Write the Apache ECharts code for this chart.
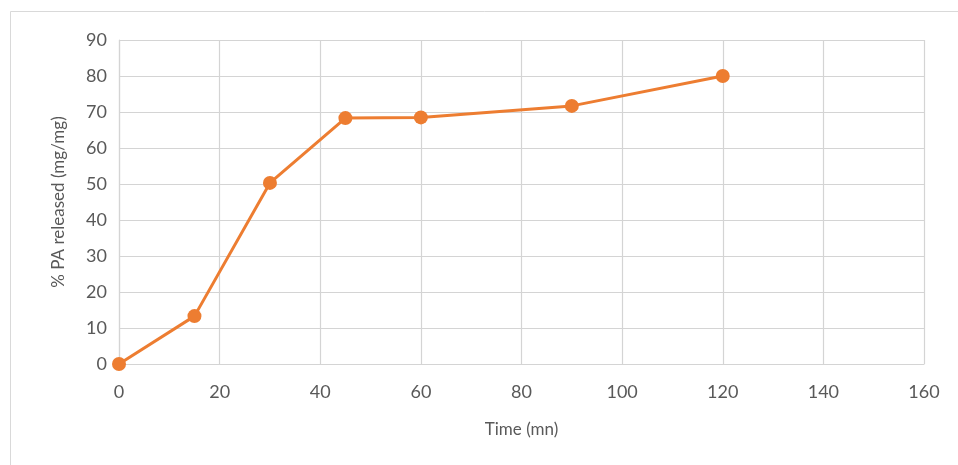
<!DOCTYPE html>
<html><head><meta charset="utf-8">
<script src="https://cdn.jsdelivr.net/npm/echarts@6/dist/echarts.min.js"></script>
<style>html,body{margin:0;padding:0;background:#fff}#c{width:958px;height:465px}</style>
</head><body><div id="c"></div>
<script>
const timeMin = [0, 15, 30, 45, 60, 90, 120];
const released = [0, 13.3, 50.3, 68.3, 68.5, 71.7, 80.0];
const xTitle = 'Time (mn)';
const yTitle = '% PA released (mg/mg)';

const chart = echarts.init(document.getElementById('c'), null, {renderer: 'canvas'});
const font = 'Lato, "Open Sans", sans-serif';
const txt = '#595959';
chart.setOption({
  animation: false,
  backgroundColor: '#fff',
  graphic: [{
    type: 'rect', silent: true,
    shape: {x: 10.5, y: 11.5, width: 1000, height: 1000},
    style: {fill: 'none', stroke: '#d9d9d9', lineWidth: 1}
  }],
  grid: {left: 119, top: 40, right: 34, bottom: 101},
  xAxis: {
    type: 'value', min: 0, max: 160, interval: 20,
    name: xTitle, nameLocation: 'middle', nameGap: 57,
    nameTextStyle: {color: txt, fontSize: 17, fontFamily: font},
    axisLine: {show: true, lineStyle: {color: '#d4d4d4', width: 1.2}},
    axisTick: {show: false},
    axisLabel: {color: txt, fontSize: 18, fontFamily: font, margin: 19},
    splitLine: {show: true, lineStyle: {color: '#d4d4d4', width: 1.2}}
  },
  yAxis: {
    type: 'value', min: 0, max: 90, interval: 10,
    name: yTitle, nameLocation: 'middle', nameGap: 52,
    nameTextStyle: {color: txt, fontSize: 17, fontFamily: font},
    axisLine: {show: true, lineStyle: {color: '#d4d4d4', width: 1.2}},
    axisTick: {show: false},
    axisLabel: {color: txt, fontSize: 18, fontFamily: font, margin: 12},
    splitLine: {show: true, lineStyle: {color: '#d4d4d4', width: 1.2}}
  },
  series: [{
    type: 'line',
    data: timeMin.map((t, i) => [t, released[i]]),
    symbol: 'circle', symbolSize: 14,
    lineStyle: {color: '#ED7D31', width: 3},
    itemStyle: {color: '#ED7D31'},
    clip: false
  }]
});
</script></body></html>
